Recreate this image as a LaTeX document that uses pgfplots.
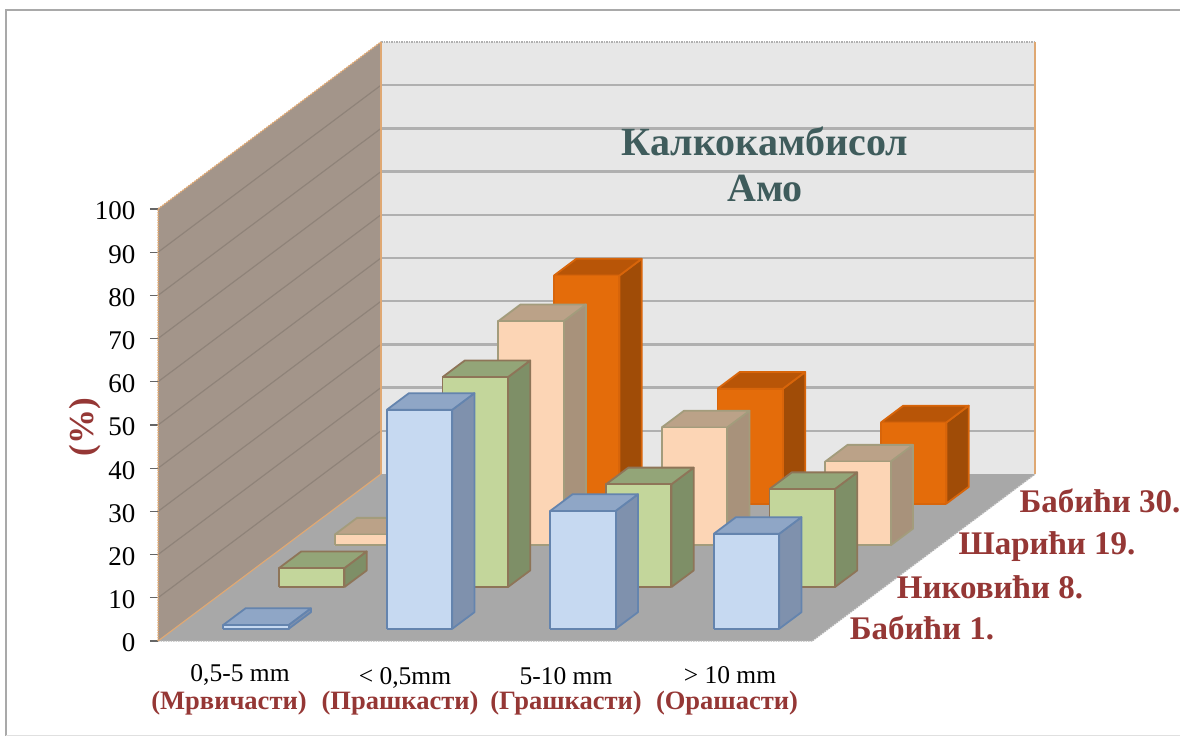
\documentclass[border=0pt]{standalone}
\usepackage{pgfplots}
\pgfplotsset{compat=1.18}
\usepackage{fontspec}
\setmainfont{Liberation Serif}

\definecolor{frameg}{HTML}{A9A9A9}
\definecolor{backw}{HTML}{E7E7E7}
\definecolor{backgrid}{HTML}{B0B0B0}
\definecolor{leftw}{HTML}{A3958A}
\definecolor{leftgrid}{HTML}{8F8379}
\definecolor{floorw}{HTML}{A8A8A8}
\definecolor{wallline}{HTML}{DFA873}
\definecolor{labred}{HTML}{953735}
\definecolor{titleg}{HTML}{3F5C5C}

\definecolor{bluefront}{HTML}{C6D9F1}
\definecolor{blueside}{HTML}{7F91AD}
\definecolor{bluetop}{HTML}{8FA6C6}
\definecolor{blueedge}{HTML}{6484AE}
\definecolor{greenfront}{HTML}{C3D69B}
\definecolor{greenside}{HTML}{7E8F67}
\definecolor{greentop}{HTML}{93A578}
\definecolor{greenedge}{HTML}{8E7558}
\definecolor{peachfront}{HTML}{FCD5B5}
\definecolor{peachside}{HTML}{A8927B}
\definecolor{peachtop}{HTML}{BBA288}
\definecolor{peachedge}{HTML}{A39C7C}
\definecolor{orangefront}{HTML}{E46C0A}
\definecolor{orangeside}{HTML}{A04C07}
\definecolor{orangetop}{HTML}{B85507}
\definecolor{orangeedge}{HTML}{D8650A}

% one bar: category, row, value, colour prefix
\newcommand{\cuboid}[4]{%
  \pgfmathsetmacro\xa{#1+0.30}\pgfmathsetmacro\xb{#1+0.70}%
  \pgfmathsetmacro\ya{#2+0.29}\pgfmathsetmacro\yb{#2+0.69}%
  \edef\faces{%
    \noexpand\addplot3[draw=#4edge,fill=#4side,line width=1.8pt,line join=round]
      coordinates {(\xb,\ya,0)(\xb,\yb,0)(\xb,\yb,#3)(\xb,\ya,#3)(\xb,\ya,0)};
    \noexpand\addplot3[draw=#4edge,fill=#4top,line width=1.8pt,line join=round]
      coordinates {(\xa,\ya,#3)(\xb,\ya,#3)(\xb,\yb,#3)(\xa,\yb,#3)(\xa,\ya,#3)};
    \noexpand\addplot3[draw=#4edge,fill=#4front,line width=1.8pt,line join=round]
      coordinates {(\xa,\ya,0)(\xb,\ya,0)(\xb,\ya,#3)(\xa,\ya,#3)(\xa,\ya,0)};
  }\faces
}

\begin{document}
\begin{tikzpicture}[x=1pt,y=1pt]
  \useasboundingbox (0,0) rectangle (1180,736);
  \draw[frameg,line width=2.5pt] (6,0) -- (6,726) -- (1180,726);
  \draw[black!12,line width=1pt] (6,1) -- (1180,1);

  \begin{axis}[
    at={(158pt,95pt)},anchor=origin,
    x={(163.5pt,0pt)},y={(55.75pt,41.75pt)},z={(0pt,4.32pt)},
    xmin=0,xmax=4,ymin=0,ymax=4,zmin=0,zmax=100,
    axis lines=left,
    axis line style={draw=none,-},
    xtick=\empty,ytick=\empty,
    ztick={0,10,...,100},
    major tick length=0pt,
    tick label style={font=\fontsize{27}{29}\selectfont},
    z tick label style={anchor=east,xshift=-19pt,yshift=-2pt},
    /pgf/number format/assume math mode=true,
    clip=false,
  ]
    % walls
    \addplot3[draw=none,fill=floorw] coordinates {(0,0,0)(4,0,0)(4,4,0)(0,4,0)(0,0,0)};
    \addplot3[draw=none,fill=backw] coordinates {(0,4,0)(4,4,0)(4,4,100)(0,4,100)(0,4,0)};
    \addplot3[draw=none,fill=leftw] coordinates {(0,0,0)(0,4,0)(0,4,100)(0,0,100)(0,0,0)};
    \pgfplotsinvokeforeach{10,20,...,90}{
      \addplot3[backgrid,line width=2.4pt] coordinates {(0,4,#1)(4,4,#1)};
      \addplot3[leftgrid,line width=1.2pt] coordinates {(0,0,#1)(0,4,#1)};
    }
    \pgfplotsinvokeforeach{0,10,...,100}{
      \addplot3[black!60,line width=1.2pt] coordinates {(-0.05,0,#1)(0,0,#1)};
    }
    \addplot3[backgrid,line width=1.5pt,densely dotted] coordinates {(0,4,100)(4,4,100)};
    \addplot3[backgrid,line width=1.5pt,densely dotted] coordinates {(0,0,0)(4,0,0)(4,4,0)};
    \addplot3[wallline,line width=2pt] coordinates {(4,4,0)(4,4,100)};
    \addplot3[wallline,line width=1.5pt] coordinates {(0,4,0)(0,4,100)};
    \addplot3[wallline,line width=1.5pt,densely dotted] coordinates {(0,0,0)(0,0,100)(0,4,100)};
    \addplot3[wallline,line width=1.2pt] coordinates {(0,0,0)(0,4,0)};

    % Бабићи 30.
    \cuboid{1}{3}{52.8}{orange}
    \cuboid{2}{3}{26.6}{orange}
    \cuboid{3}{3}{18.8}{orange}
    % Шарићи 19.
    \cuboid{0}{2}{2.5}{peach}
    \cuboid{1}{2}{51.9}{peach}
    \cuboid{2}{2}{27.3}{peach}
    \cuboid{3}{2}{19.4}{peach}
    % Никовићи 8.
    \cuboid{0}{1}{4.4}{green}
    \cuboid{1}{1}{48.6}{green}
    \cuboid{2}{1}{23.8}{green}
    \cuboid{3}{1}{22.7}{green}
    % Бабићи 1.
    \cuboid{0}{0}{0.9}{blue}
    \cuboid{1}{0}{50.7}{blue}
    \cuboid{2}{0}{27.3}{blue}
    \cuboid{3}{0}{22}{blue}
  \end{axis}

  % y label
  \node[rotate=90,text=labred,font=\fontsize{35}{37}\selectfont\bfseries] at (85,309) {(\%)};
  % title
  \node[text=titleg,font=\fontsize{40}{42}\selectfont\bfseries] at (765,595) {Калкокамбисол};
  \node[text=titleg,font=\fontsize{40}{42}\selectfont\bfseries] at (765,548) {Амо};
  % category labels
  \foreach \cx/\ty/\top/\bx/\bot in {
      240/61/{0,5-5 mm}/229/{(Мрвичасти)},
      405/58/{< 0,5mm}/400/{(Прашкасти)},
      566/60/{5-10 mm}/566/{(Грашкасти)},
      730/61/{> 10 mm}/727/{(Орашасти)}} {
    \node[font=\fontsize{25.5}{27}\selectfont] at (\cx,\ty) {\top};
    \node[text=labred,font=\fontsize{26.5}{28}\selectfont\bfseries] at (\bx,33) {\bot};
  }
  % series labels
  \foreach \sx/\sy/\name in {
      922/108/{Бабићи 1.},
      990/149/{Никовићи 8.},
      1047/189/{Шарићи 19.},
      1100/235/{Бабићи 30.}} {
    \node[text=labred,font=\fontsize{33}{35}\selectfont\bfseries] at (\sx,\sy) {\name};
  }
\end{tikzpicture}
\end{document}
